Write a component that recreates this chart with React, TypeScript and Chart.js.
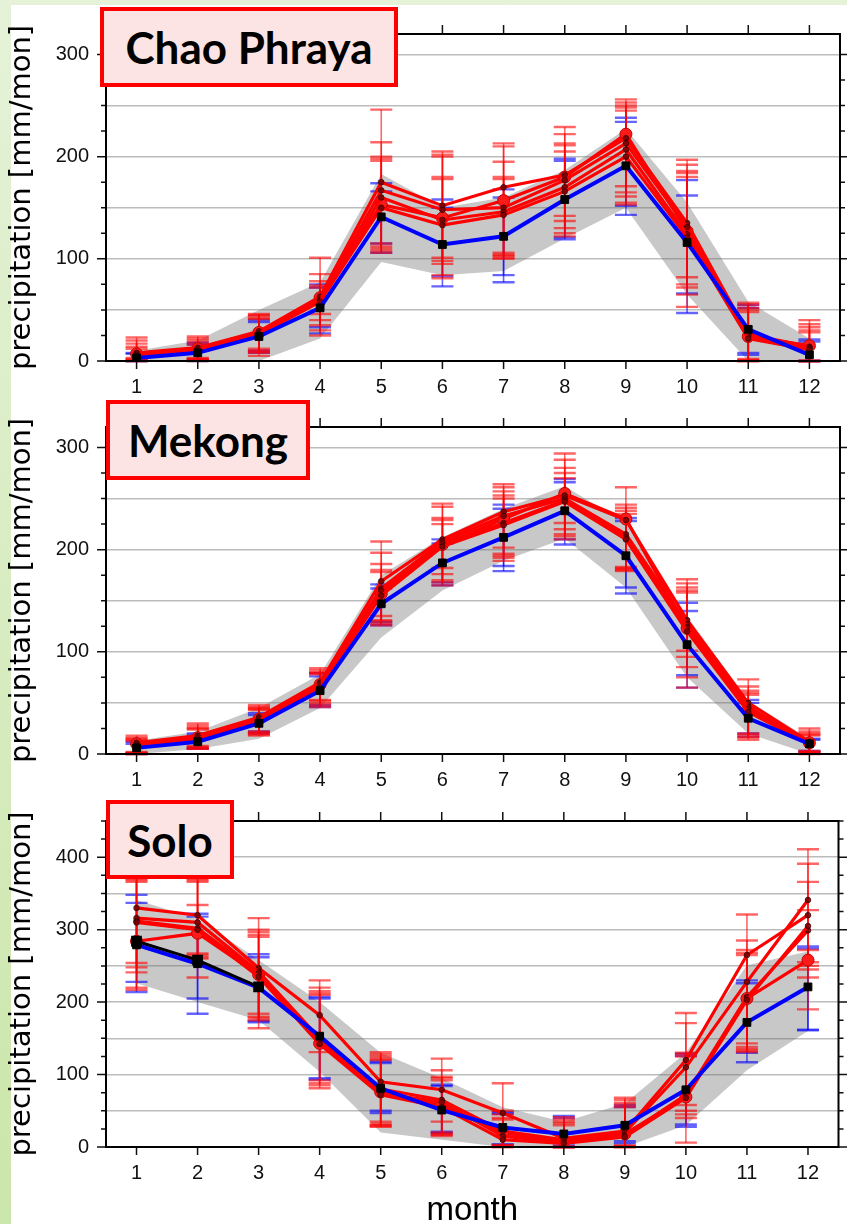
import React, { useEffect, useRef } from 'react';
import { Chart, registerables } from 'chart.js';

Chart.register(...registerables);

// ---------------- shared ----------------
const MONTHS = [1, 2, 3, 4, 5, 6, 7, 8, 9, 10, 11, 12];
const Y_TITLE = 'precipitation [mm/mon]';
const X_TITLE = 'month';

// ---------------- Chao Phraya ----------------
const cpBandHi = [10, 20, 50, 77, 183, 150, 160, 187, 227, 155, 58, 22];
const cpBandLo = [0, 0, 0, 22, 97, 84, 88, 120, 150, 65, 0, 0];
const cpObs = [3, 8, 24, 52, 141, 114, 122, 158, 191, 116, 31, 6];
const cpObsHiA = [8, 18, 40, 75, 174, 158, 168, 198, 238, 177, 55, 21];
const cpObsLoA = [0, 0, 8, 33, 115, 73, 77, 119, 143, 47, 6, 0];
const cpObsHiB = [7, 16, 38, 72, 166, 150, 160, 196, 234, 162, 52, 19];
const cpObsLoB = [0, 1, 10, 27, 106, 83, 84, 121, 152, 66, 8, 0];
const cpM1 = [7, 12, 28, 62, 153, 140, 157, 180, 222, 127, 24, 15];
const cpM2 = [8, 13, 29, 63, 175, 152, 170, 182, 218, 135, 26, 14];
const cpM3 = [6, 11, 27, 60, 167, 148, 150, 177, 213, 131, 25, 13];
const cpM4 = [6, 11, 26, 59, 160, 138, 146, 170, 207, 124, 23, 12];
const cpM5 = [5, 10, 26, 58, 150, 133, 143, 166, 200, 121, 22, 11];
const cpHi1 = [23, 24, 46, 101, 246, 205, 213, 229, 256, 197, 57, 40];
const cpHi2 = [20, 22, 45, 85, 214, 202, 210, 222, 253, 192, 55, 36];
const cpHi3 = [17, 20, 44, 78, 200, 200, 195, 213, 250, 186, 52, 33];
const cpHi4 = [14, 18, 42, 74, 198, 180, 180, 211, 248, 184, 50, 30];
const cpHi5 = [12, 16, 41, 72, 196, 178, 178, 205, 245, 180, 48, 28];
const cpLo1 = [2, 1, 12, 46, 115, 101, 106, 142, 171, 82, 0, 0];
const cpLo2 = [1, 2, 10, 40, 112, 98, 104, 137, 165, 75, 2, 0];
const cpLo3 = [0, 3, 8, 35, 110, 95, 101, 130, 161, 72, 0, 0];
const cpLo4 = [3, 0, 9, 30, 106, 84, 103, 125, 155, 65, 1, 0];
const cpLo5 = [0, 2, 5, 25, 108, 81, 100, 122, 153, 53, 0, 0];

// ---------------- Mekong ----------------
const mkBandHi = [13, 22, 45, 78, 175, 212, 240, 262, 226, 135, 52, 15];
const mkBandLo = [0, 5, 15, 45, 114, 160, 189, 211, 163, 75, 20, 0];
const mkObs = [6, 12, 30, 62, 147, 187, 212, 238, 194, 107, 35, 10];
const mkObsHiA = [12, 20, 40, 79, 166, 210, 244, 269, 231, 148, 53, 15];
const mkObsLoA = [0, 5, 20, 46, 126, 165, 179, 205, 157, 65, 17, 2];
const mkObsHiB = [10, 18, 38, 76, 162, 206, 240, 266, 228, 140, 50, 14];
const mkObsLoB = [1, 6, 22, 48, 129, 168, 184, 210, 163, 77, 20, 3];
const mkM1 = [10, 16, 34, 68, 157, 205, 230, 255, 230, 123, 43, 11];
const mkM2 = [11, 18, 36, 70, 169, 210, 237, 253, 229, 131, 50, 12];
const mkM3 = [9, 17, 35, 69, 162, 208, 233, 250, 215, 127, 46, 11];
const mkM4 = [9, 15, 33, 67, 160, 206, 226, 248, 212, 124, 44, 10];
const mkM5 = [8, 15, 32, 65, 155, 203, 224, 247, 210, 120, 41, 10];
const mkHi1 = [18, 30, 48, 84, 208, 245, 264, 294, 261, 171, 73, 25];
const mkHi2 = [16, 28, 46, 82, 197, 242, 261, 288, 244, 167, 66, 22];
const mkHi3 = [15, 26, 45, 80, 186, 231, 257, 280, 241, 163, 62, 20];
const mkHi4 = [14, 25, 44, 79, 180, 229, 253, 275, 238, 160, 60, 19];
const mkHi5 = [13, 24, 43, 78, 178, 225, 250, 270, 235, 158, 58, 18];
const mkLo1 = [0, 5, 18, 46, 135, 182, 202, 226, 182, 101, 17, 2];
const mkLo2 = [1, 6, 20, 48, 131, 176, 196, 220, 179, 95, 14, 1];
const mkLo3 = [2, 7, 22, 50, 128, 170, 192, 215, 181, 85, 19, 3];
const mkLo4 = [0, 5, 19, 53, 126, 165, 189, 210, 180, 75, 16, 0];
const mkLo5 = [1, 8, 21, 52, 130, 168, 194, 213, 183, 65, 20, 2];

// ---------------- Solo ----------------
const slBandHi = [341, 315, 258, 200, 130, 95, 55, 35, 60, 130, 251, 270];
const slBandLo = [226, 200, 175, 104, 20, 10, 0, 0, 0, 30, 106, 160];
const slObs = [279, 253, 220, 153, 81, 51, 27, 18, 30, 79, 172, 221];
const slObsBlack = [284, 258, 221, null, null, null, null, null, null, null, null, null];
const slObsHiA = [348, 322, 266, 207, 116, 86, 48, 43, 55, 129, 230, 277];
const slObsLoA = [228, 205, 174, 95, 47, 21, 2, 0, 8, 28, 117, 161];
const slObsHiB = [337, 318, 262, 205, 118, 84, 46, 40, 58, 126, 226, 274];
const slObsLoB = [214, 184, 172, 93, 50, 19, 4, 2, 5, 31, 130, 162];
const slM1 = [284, 295, 238, 143, 76, 58, 19, 8, 18, 69, 205, 258];
const slM2 = [330, 320, 247, 182, 90, 79, 47, 12, 22, 120, 265, 320];
const slM3 = [316, 310, 242, 150, 80, 65, 22, 10, 20, 110, 228, 341];
const slM4 = [312, 302, 240, 146, 74, 62, 15, 6, 16, 72, 207, 299];
const slM5 = [310, 300, 235, 142, 72, 55, 10, 5, 14, 68, 203, 305];
const slHi1 = [366, 366, 290, 210, 120, 92, 38, 30, 55, 125, 265, 272];
const slHi2 = [375, 372, 316, 230, 131, 122, 88, 41, 68, 185, 321, 391];
const slHi3 = [372, 370, 300, 220, 128, 106, 50, 38, 65, 171, 285, 411];
const slHi4 = [370, 334, 297, 215, 125, 97, 45, 35, 61, 130, 272, 366];
const slHi5 = [368, 368, 293, 212, 122, 95, 40, 33, 58, 128, 268, 327];
const slLo1 = [217, 234, 164, 81, 29, 18, 1, 0, 1, 6, 133, 190];
const slLo2 = [254, 267, 184, 131, 35, 35, 0, 0, 0, 58, 143, 255];
const slLo3 = [248, 265, 180, 92, 30, 20, 2, 0, 2, 50, 138, 250];
const slLo4 = [241, 262, 178, 88, 28, 17, 0, 0, 0, 40, 135, 245];
const slLo5 = [220, 260, 175, 85, 32, 15, 3, 0, 0, 45, 131, 234];

// ---------------- panel definitions ----------------
type Err = { hi: number[]; lo: number[] };
type PanelData = {
  name: string;
  yMax: number;
  bandHi: number[];
  bandLo: number[];
  obs: number[];
  obsBlack?: (number | null)[];
  obsErr: Err[];
  models: number[][];
  modelErr: Err[];
};

const PANELS: PanelData[] = [
  {
    name: 'Chao Phraya', yMax: 320, bandHi: cpBandHi, bandLo: cpBandLo, obs: cpObs,
    obsErr: [{ hi: cpObsHiA, lo: cpObsLoA }, { hi: cpObsHiB, lo: cpObsLoB }],
    models: [cpM1, cpM2, cpM3, cpM4, cpM5],
    modelErr: [
      { hi: cpHi1, lo: cpLo1 }, { hi: cpHi2, lo: cpLo2 }, { hi: cpHi3, lo: cpLo3 },
      { hi: cpHi4, lo: cpLo4 }, { hi: cpHi5, lo: cpLo5 },
    ],
  },
  {
    name: 'Mekong', yMax: 320, bandHi: mkBandHi, bandLo: mkBandLo, obs: mkObs,
    obsErr: [{ hi: mkObsHiA, lo: mkObsLoA }, { hi: mkObsHiB, lo: mkObsLoB }],
    models: [mkM1, mkM2, mkM3, mkM4, mkM5],
    modelErr: [
      { hi: mkHi1, lo: mkLo1 }, { hi: mkHi2, lo: mkLo2 }, { hi: mkHi3, lo: mkLo3 },
      { hi: mkHi4, lo: mkLo4 }, { hi: mkHi5, lo: mkLo5 },
    ],
  },
  {
    name: 'Solo', yMax: 450, bandHi: slBandHi, bandLo: slBandLo, obs: slObs, obsBlack: slObsBlack,
    obsErr: [{ hi: slObsHiA, lo: slObsLoA }, { hi: slObsHiB, lo: slObsLoB }],
    models: [slM1, slM2, slM3, slM4, slM5],
    modelErr: [
      { hi: slHi1, lo: slLo1 }, { hi: slHi2, lo: slLo2 }, { hi: slHi3, lo: slLo3 },
      { hi: slHi4, lo: slLo4 }, { hi: slHi5, lo: slLo5 },
    ],
  },
];

type Layout = { top: number; height: number; padTop: number; xHeight: number; showX: boolean };
const LAYOUTS: Layout[] = [
  { top: 5, height: 393, padTop: 27, xHeight: 37, showX: false },
  { top: 398, height: 392, padTop: 28, xHeight: 36, showX: false },
  { top: 790, height: 434, padTop: 31, xHeight: 77, showX: true },
];

const BOXES = [
  { left: 100, top: 7, width: 298, height: 80 },
  { left: 106, top: 400, width: 204, height: 80 },
  { left: 106, top: 800, width: 128, height: 79 },
];

const TICK_FONT = { family: '"Liberation Sans", Arial, sans-serif', size: 20 };

const pts = (arr: (number | null)[]) => MONTHS.map((m, i) => ({ x: m, y: arr[i] }));

function errPlugin(sets: { color: string; err: Err }[], bandIndex: number) {
  return {
    id: 'errbars',
    afterDatasetDraw(chart: any, args: any) {
      if (args.index !== bandIndex) return;
      const { ctx } = chart;
      const xs = chart.scales.x;
      const ys = chart.scales.y;
      ctx.save();
      for (const s of sets) {
        ctx.strokeStyle = s.color;
        for (let i = 0; i < MONTHS.length; i++) {
          const px = xs.getPixelForValue(MONTHS[i]);
          const yh = ys.getPixelForValue(s.err.hi[i]);
          const yl = ys.getPixelForValue(s.err.lo[i]);
          ctx.lineWidth = 1.6;
          ctx.beginPath();
          ctx.moveTo(px, yh);
          ctx.lineTo(px, yl);
          ctx.stroke();
          ctx.lineWidth = 2.4;
          ctx.beginPath();
          ctx.moveTo(px - 11, yh);
          ctx.lineTo(px + 11, yh);
          ctx.moveTo(px - 11, yl);
          ctx.lineTo(px + 11, yl);
          ctx.stroke();
        }
      }
      ctx.restore();
    },
  };
}

function framePlugin(yMax: number) {
  return {
    id: 'frame',
    afterDraw(chart: any) {
      const { ctx, chartArea: a } = chart;
      const xs = chart.scales.x;
      const ys = chart.scales.y;
      ctx.save();
      ctx.strokeStyle = '#111';
      ctx.lineWidth = 1.5;
      ctx.beginPath();
      for (let v = 0; v <= yMax; v += 25) {
        const y = ys.getPixelForValue(v);
        const len = v % 100 === 0 ? 9 : 5;
        ctx.moveTo(a.left - len, y);
        ctx.lineTo(a.left, y);
        ctx.moveTo(a.right, y);
        ctx.lineTo(a.right + len, y);
      }
      for (const m of MONTHS) {
        const x = xs.getPixelForValue(m);
        ctx.moveTo(x, a.top - 9);
        ctx.lineTo(x, a.top);
        ctx.moveTo(x, a.bottom);
        ctx.lineTo(x, a.bottom + 8);
      }
      ctx.stroke();
      ctx.lineWidth = 2;
      ctx.strokeStyle = '#000';
      ctx.strokeRect(a.left, a.top, a.right - a.left, a.bottom - a.top);
      ctx.restore();
    },
  };
}

function buildConfig(p: PanelData, L: Layout): any {
  const datasets: any[] = [];
  // 0: band upper (filled to band lower), 1: band lower
  datasets.push({
    data: pts(p.bandHi), borderWidth: 0, pointRadius: 0, fill: '+1',
    backgroundColor: 'rgba(110,110,110,0.38)', borderColor: 'rgba(0,0,0,0)', order: 100,
  });
  datasets.push({
    data: pts(p.bandLo), borderWidth: 0, pointRadius: 0, fill: false,
    borderColor: 'rgba(0,0,0,0)', order: 101,
  });
  p.models.forEach((m, k) => {
    const big = k === 0;
    datasets.push({
      data: pts(m), borderColor: '#ff0000', borderWidth: 3.2, fill: false,
      pointRadius: big ? 6 : 2.8, pointStyle: 'circle',
      pointBackgroundColor: big ? '#ff1a1a' : 'rgba(110,0,0,0.85)',
      pointBorderColor: big ? '#c00000' : 'rgba(60,0,0,0.8)', pointBorderWidth: 1,
      order: 50 - k,
    });
  });
  datasets.push({
    data: pts(p.obs), borderColor: '#0000ff', borderWidth: 4, fill: false,
    pointStyle: 'rect', pointRadius: 5.5, pointBackgroundColor: '#000', pointBorderColor: '#000',
    pointBorderWidth: 1, order: 10,
  });
  if (p.obsBlack) {
    datasets.push({
      data: pts(p.obsBlack), borderColor: '#000', borderWidth: 3, fill: false,
      pointStyle: 'rect', pointRadius: 5.5, pointBackgroundColor: '#000', pointBorderColor: '#000',
      order: 5, spanGaps: false,
    });
  }

  const sets = [
    ...p.obsErr.map((e) => ({ color: 'rgba(0,0,255,0.6)', err: e })),
    ...p.modelErr.map((e) => ({ color: 'rgba(255,0,0,0.6)', err: e })),
  ];

  return {
    type: 'line',
    data: { datasets },
    plugins: [errPlugin(sets, 0), framePlugin(p.yMax)],
    options: {
      animation: false,
      responsive: false,
      devicePixelRatio: 1,
      layout: { padding: { top: L.padTop, right: 5, left: 0, bottom: 0 } },
      plugins: { legend: { display: false }, tooltip: { enabled: false } },
      elements: { line: { tension: 0 } },
      scales: {
        x: {
          type: 'linear', min: 0.5, max: 12.5,
          afterBuildTicks: (s: any) => { s.ticks = MONTHS.map((v) => ({ value: v })); },
          afterFit: (s: any) => { s.height = L.xHeight; },
          grid: { display: false, drawTicks: false },
          border: { display: false },
          ticks: {
            autoSkip: false, maxRotation: 0, padding: 14, color: '#111', font: TICK_FONT,
            callback: (v: any) => String(v),
          },
          title: {
            display: L.showX, text: X_TITLE, color: '#000', padding: 0,
            font: { family: '"Liberation Sans", Arial, sans-serif', size: 33, lineHeight: 0.8 },
          },
        },
        y: {
          type: 'linear', min: 0, max: p.yMax,
          afterBuildTicks: (s: any) => {
            const t: any[] = [];
            for (let v = 0; v <= p.yMax; v += 25) t.push({ value: v });
            s.ticks = t;
          },
          afterFit: (s: any) => { s.width = 106; },
          grid: {
            drawTicks: false, lineWidth: 1.5,
            color: (c: any) => {
              const v = c.tick ? c.tick.value : -1;
              return v % 50 === 0 && v > 0 && v < p.yMax ? '#bcbcbc' : 'rgba(0,0,0,0)';
            },
          },
          border: { display: false },
          ticks: {
            autoSkip: false, padding: 17, color: '#111', font: TICK_FONT,
            callback: (v: any) => (v % 100 === 0 ? String(v) : ''),
          },
          title: {
            display: true, text: Y_TITLE, color: '#000', padding: { top: 5, bottom: 0 },
            font: { family: '"DejaVu Sans", sans-serif', size: 29, lineHeight: 1.2 },
          },
        },
      },
    },
  };
}

function Panel({ p, L }: { p: PanelData; L: Layout }) {
  const ref = useRef<HTMLCanvasElement>(null);
  useEffect(() => {
    const chart = new Chart(ref.current as HTMLCanvasElement, buildConfig(p, L));
    return () => chart.destroy();
  }, []);
  return (
    <canvas
      ref={ref}
      width={847}
      height={L.height}
      style={{ position: 'absolute', left: 0, top: L.top, width: 847, height: L.height }}
    />
  );
}

export default function App() {
  return (
    <div
      style={{
        position: 'fixed', left: 0, top: 0, width: 847, height: 1224, overflow: 'hidden',
        background: 'linear-gradient(to bottom, #e5f2d8, #cbe6aa)',
      }}
    >
      <div style={{ position: 'absolute', left: 11, top: 5, width: 836, height: 1219, background: '#fff' }} />
      {PANELS.map((p, i) => (
        <Panel key={p.name} p={p} L={LAYOUTS[i]} />
      ))}
      {PANELS.map((p, i) => (
        <div
          key={'box' + i}
          style={{
            position: 'absolute', left: BOXES[i].left, top: BOXES[i].top, width: BOXES[i].width,
            height: BOXES[i].height, boxSizing: 'border-box', border: '4px solid #ff0000',
            background: '#fde4e4', display: 'flex', alignItems: 'center', justifyContent: 'center',
            fontFamily: 'Lato, "Open Sans", sans-serif', fontWeight: 700, fontSize: 44, color: '#000',
            lineHeight: 1,
          }}
        >
          {p.name}
        </div>
      ))}
    </div>
  );
}
